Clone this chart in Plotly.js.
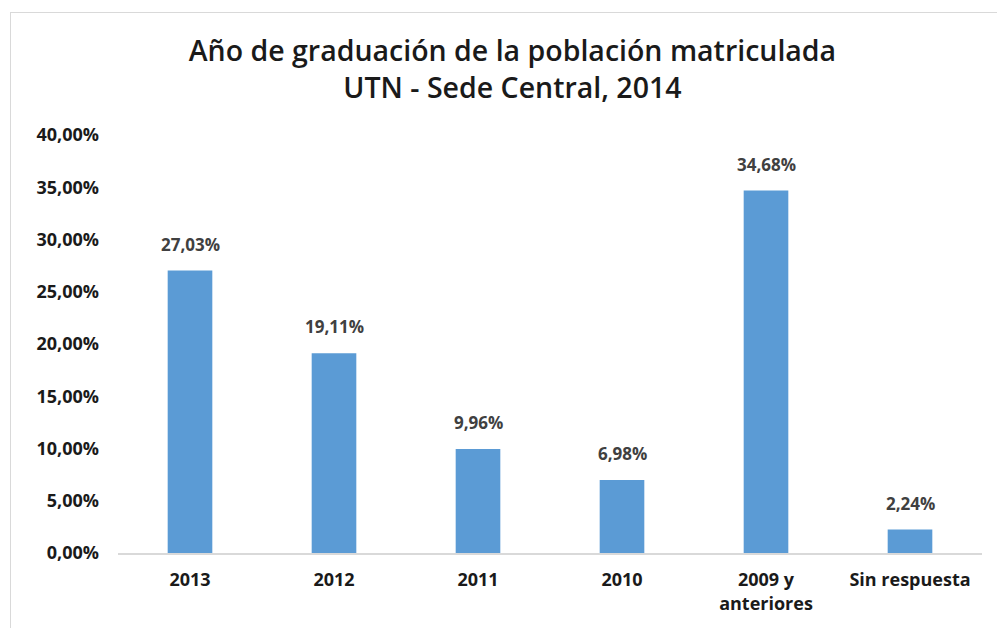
<!DOCTYPE html>
<html><head><meta charset="utf-8">
<script src="https://cdn.plot.ly/plotly-3.0.1.min.js"></script>
<style>
body{margin:0;background:#fff;}
#wrap{position:relative;width:997px;height:628px;}
#chart{width:997px;height:628px;}
#frame{position:absolute;left:10px;top:12px;width:1000px;height:700px;border-top:1px solid #d9d9d9;border-left:1px solid #d9d9d9;pointer-events:none;}
</style></head>
<body>
<div id="wrap"><div id="chart"></div><div id="frame"></div></div>
<script>
const categories = ["2013", "2012", "2011", "2010", "2009 y<br>anteriores", "Sin respuesta"];
const values = [27.03, 19.11, 9.96, 6.98, 34.68, 2.24];
const valueLabels = ["27,03%", "19,11%", "9,96%", "6,98%", "34,68%", "2,24%"];
const tickValues = [0, 5, 10, 15, 20, 25, 30, 35, 40];
const tickLabels = ["0,00%", "5,00%", "10,00%", "15,00%", "20,00%", "25,00%", "30,00%", "35,00%", "40,00%"];

const fontFam = "Open Sans, Lato, sans-serif";

const trace = {
  type: "bar",
  x: categories,
  y: values,
  marker: {color: "#5B9BD5"},
  hoverinfo: "skip"
};

// category axis: annotation x given as the category's serial index
const annotations = categories.map((c, i) => ({
  x: i, y: values[i], xref: "x", yref: "y",
  text: valueLabels[i], showarrow: false,
  yanchor: "bottom", yshift: 13,
  font: {family: fontFam, size: 17, color: "#404040", weight: 700}
}));

const layout = {
  width: 997, height: 628,
  margin: {l: 118, r: 15, t: 135, b: 75},
  paper_bgcolor: "#fff", plot_bgcolor: "#fff",
  bargap: 0.69,
  showlegend: false,
  title: {
    text: "Año de graduación de la población matriculada<br>UTN - Sede Central, 2014",
    x: 0.514, xanchor: "center", yref: "container", y: 0.903, yanchor: "top",
    font: {family: fontFam, size: 28.5, color: "#1a1a1a", weight: 600}
  },
  xaxis: {
    type: "category",
    showgrid: false, zeroline: false,
    showline: true, linecolor: "#d9d9d9", linewidth: 1.5,
    ticks: "", tickfont: {family: fontFam, size: 18, color: "#1a1a1a", weight: 700},
    ticklabelstandoff: 10
  },
  yaxis: {
    range: [0, 40], showgrid: false, zeroline: false, showline: false,
    tickmode: "array", tickvals: tickValues, ticktext: tickLabels,
    ticks: "", ticklabelstandoff: 18,
    tickfont: {family: fontFam, size: 18, color: "#1a1a1a", weight: 700}
  },
  annotations: annotations
};

Plotly.newPlot("chart", [trace], layout, {displayModeBar: false, staticPlot: true});
</script>
</body></html>
